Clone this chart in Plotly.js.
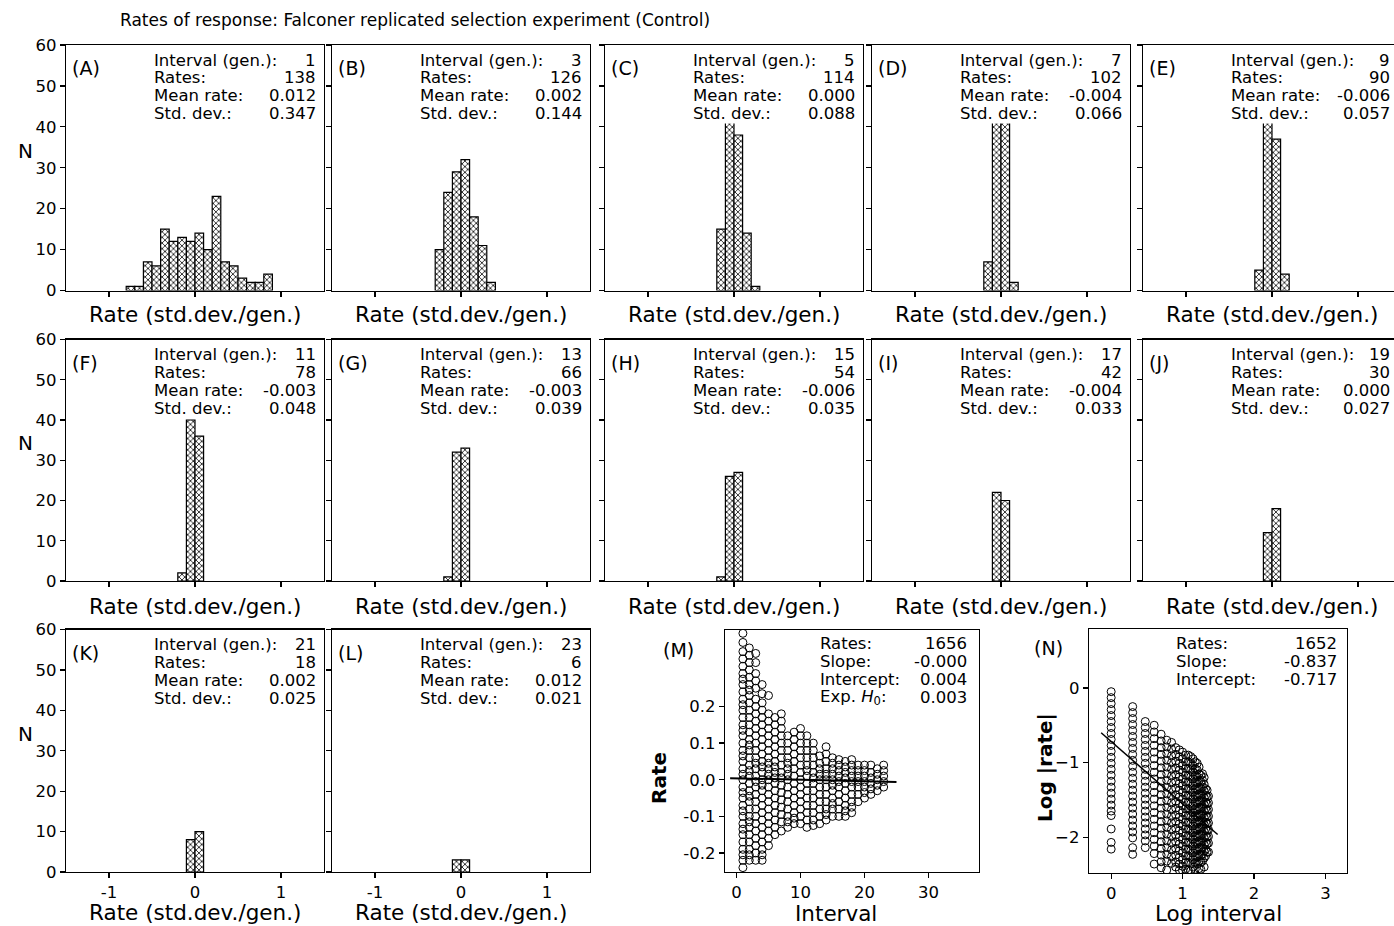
<!DOCTYPE html>
<html><head><meta charset="utf-8">
<script src="https://cdn.plot.ly/plotly-3.0.1.min.js"></script>
<style>html,body{margin:0;padding:0;background:#fff}</style>
</head><body>
<div id="chart" style="width:1394px;height:926px"></div>
<script>
// ---------------- data ----------------
const chartTitle = "Rates of response: Falconer replicated selection experiment (Control)";
const panelLetters = ["A","B","C","D","E","F","G","H","I","J","K","L"];
const intervals = [1,3,5,7,9,11,13,15,17,19,21,23];
const rateCounts = [138,126,114,102,90,78,66,54,42,30,18,6];
const meanRates = ["0.012","0.002","0.000","-0.004","-0.006","-0.003","-0.003","-0.006","-0.004","0.000","0.002","0.012"];
const stdDevs = ["0.347","0.144","0.088","0.066","0.057","0.048","0.039","0.035","0.033","0.027","0.025","0.021"];
const statLabels = ["Interval (gen.):","Rates:","Mean rate:","Std. dev.:"];
const binWidth = 0.1;
const histFirstEdge = [-0.8,-0.3,-0.2,-0.2,-0.2,-0.2,-0.2,-0.2,-0.1,-0.1,-0.1,-0.1];
const histCounts = [
  [1,1,7,6,15,12,13,12,14,10,23,7,6,3,2,2,4],
  [10,24,29,32,18,11,2],
  [15,46,38,14,1],
  [7,47,46,2],
  [5,44,37,4],
  [2,40,36],
  [1,32,33],
  [1,26,27],
  [22,20],
  [12,18],
  [8,10],
  [3,3]
];
const histXTicks = [-1,0,1];
const histYTicks = [0,10,20,30,40,50,60];

// panel M: rate vs interval
const mIntervals = [1,2,3,4,5,6,7,8,9,10,11,12,13,14,15,16,17,18,19,20,21,22,23];
const mRates = [
  [0.40,0.375,0.35,0.33,0.31,0.29,0.275,0.26,0.24,0.22,0.205,0.19,0.17,0.15,0.135,0.12,0.10,0.08,0.065,0.05,0.03,0.015,0.0,-0.02,-0.035,-0.05,-0.07,-0.085,-0.10,-0.12,-0.135,-0.15,-0.17,-0.19,-0.205,-0.22,-0.24],
  [0.36,0.34,0.32,0.30,0.28,0.26,0.245,0.23,0.21,0.19,0.17,0.15,0.13,0.11,0.095,0.08,0.06,0.04,0.025,0.01,-0.01,-0.03,-0.045,-0.06,-0.08,-0.10,-0.115,-0.13,-0.15,-0.17,-0.19,-0.205,-0.22],
  [0.345,0.32,0.29,0.27,0.25,0.22,0.20,0.18,0.16,0.14,0.12,0.10,0.08,0.06,0.045,0.03,0.01,-0.005,-0.02,-0.04,-0.06,-0.08,-0.10,-0.12,-0.14,-0.16,-0.18,-0.20,-0.22],
  [0.26,0.235,0.21,0.19,0.17,0.15,0.13,0.11,0.09,0.07,0.05,0.035,0.02,0.0,-0.015,-0.03,-0.05,-0.07,-0.09,-0.11,-0.13,-0.15,-0.17,-0.19,-0.205,-0.22],
  [0.23,0.18,0.16,0.14,0.12,0.10,0.08,0.06,0.045,0.03,0.015,0.0,-0.02,-0.04,-0.06,-0.08,-0.10,-0.12,-0.14,-0.16,-0.18],
  [0.17,0.15,0.13,0.11,0.09,0.07,0.05,0.035,0.02,0.005,-0.01,-0.03,-0.05,-0.07,-0.09,-0.11,-0.13,-0.15],
  [0.18,0.16,0.14,0.12,0.10,0.08,0.06,0.04,0.02,0.005,-0.015,-0.035,-0.055,-0.075,-0.095,-0.115,-0.14],
  [0.12,0.10,0.08,0.06,0.045,0.03,0.015,0.0,-0.02,-0.04,-0.06,-0.08,-0.10,-0.115,-0.13],
  [0.13,0.11,0.09,0.07,0.05,0.03,0.01,-0.01,-0.03,-0.05,-0.07,-0.09,-0.105,-0.12],
  [0.14,0.12,0.10,0.08,0.06,0.04,0.02,0.0,-0.02,-0.04,-0.06,-0.08,-0.10,-0.12],
  [0.12,0.10,0.08,0.06,0.04,0.025,0.01,-0.01,-0.03,-0.05,-0.07,-0.09,-0.11,-0.13],
  [0.10,0.08,0.06,0.04,0.02,0.005,-0.01,-0.03,-0.05,-0.07,-0.09,-0.11,-0.125],
  [0.065,0.045,0.03,0.015,0.0,-0.02,-0.04,-0.06,-0.08,-0.10,-0.12],
  [0.09,0.07,0.05,0.03,0.015,0.0,-0.02,-0.04,-0.06,-0.08,-0.095,-0.11],
  [0.06,0.045,0.03,0.015,0.0,-0.015,-0.03,-0.05,-0.065,-0.08,-0.10],
  [0.055,0.04,0.025,0.01,-0.005,-0.02,-0.04,-0.06,-0.08,-0.10],
  [0.05,0.035,0.02,0.005,-0.01,-0.03,-0.05,-0.07,-0.085,-0.10],
  [0.055,0.04,0.025,0.01,-0.005,-0.02,-0.04,-0.06,-0.075,-0.09],
  [0.04,0.025,0.01,-0.005,-0.02,-0.04,-0.06],
  [0.04,0.025,0.01,-0.005,-0.02,-0.035,-0.05],
  [0.04,0.02,0.005,-0.01,-0.025,-0.04],
  [0.03,0.015,0.0,-0.015,-0.03],
  [0.04,0.025,0.01,-0.005,-0.02]
];
const mStatLabels = ["Rates:","Slope:","Intercept:","Exp. <i>H</i><sub>0</sub>:"];
const mStatValues = ["1656","-0.000","0.004","0.003"];
const mFitX = [-1, 25];
const mFitY = [0.0044, -0.006];
const mXTicks = [0,10,20,30];
const mYTicks = [-0.2,-0.1,0.0,0.1,0.2];

// panel N: log |rate| vs log interval
const nLogRates = [
  [-0.05,-0.13,-0.21,-0.29,-0.37,-0.45,-0.53,-0.61,-0.69,-0.77,-0.85,-0.93,-1.01,-1.09,-1.17,-1.25,-1.33,-1.41,-1.49,-1.57,-1.65,-1.71,-1.89,-2.07,-2.16],
  [-0.25,-0.33,-0.41,-0.49,-0.57,-0.65,-0.73,-0.81,-0.89,-0.97,-1.05,-1.13,-1.21,-1.29,-1.37,-1.45,-1.53,-1.61,-1.69,-1.77,-1.85,-1.93,-2.01,-2.14,-2.23],
  [-0.45,-0.53,-0.61,-0.69,-0.77,-0.85,-0.93,-1.01,-1.09,-1.17,-1.25,-1.33,-1.41,-1.49,-1.57,-1.65,-1.73,-1.81,-1.89,-1.97,-2.05,-2.14],
  [-0.5,-0.59,-0.68,-0.77,-0.86,-0.95,-1.04,-1.13,-1.22,-1.31,-1.4,-1.49,-1.58,-1.67,-1.76,-1.85,-1.94,-2.03,-2.12,-2.22,-2.36],
  [-0.62,-0.71,-0.8,-0.89,-0.98,-1.07,-1.16,-1.25,-1.34,-1.43,-1.52,-1.61,-1.7,-1.79,-1.88,-1.97,-2.06,-2.15,-2.24,-2.33,-2.41],
  [-0.7,-0.79,-0.88,-0.97,-1.06,-1.15,-1.24,-1.33,-1.42,-1.51,-1.6,-1.69,-1.78,-1.87,-1.96,-2.05,-2.14,-2.23,-2.32,-2.44],
  [-0.73,-0.82,-0.91,-1.0,-1.09,-1.18,-1.27,-1.36,-1.45,-1.54,-1.63,-1.72,-1.81,-1.9,-1.99,-2.08,-2.17,-2.26,-2.35],
  [-0.8,-0.89,-0.98,-1.07,-1.16,-1.25,-1.34,-1.43,-1.52,-1.61,-1.7,-1.79,-1.88,-1.97,-2.06,-2.15,-2.24,-2.33,-2.4],
  [-0.83,-0.92,-1.01,-1.1,-1.19,-1.28,-1.37,-1.46,-1.55,-1.64,-1.73,-1.82,-1.91,-2.0,-2.09,-2.18,-2.27,-2.36,-2.44],
  [-0.86,-0.95,-1.04,-1.13,-1.22,-1.31,-1.4,-1.49,-1.58,-1.67,-1.76,-1.85,-1.94,-2.03,-2.12,-2.21,-2.3,-2.39,-2.45],
  [-0.9,-0.99,-1.08,-1.17,-1.26,-1.35,-1.44,-1.53,-1.62,-1.71,-1.8,-1.89,-1.98,-2.07,-2.16,-2.25,-2.34,-2.43],
  [-0.9,-0.99,-1.08,-1.17,-1.26,-1.35,-1.44,-1.53,-1.62,-1.71,-1.8,-1.89,-1.98,-2.07,-2.16,-2.25,-2.34,-2.44],
  [-0.92,-1.01,-1.1,-1.19,-1.28,-1.37,-1.46,-1.55,-1.64,-1.73,-1.82,-1.91,-2.0,-2.09,-2.18,-2.27,-2.36,-2.45],
  [-0.95,-1.04,-1.13,-1.22,-1.31,-1.4,-1.49,-1.58,-1.67,-1.76,-1.85,-1.94,-2.03,-2.12,-2.21,-2.3,-2.4],
  [-0.99,-1.08,-1.17,-1.26,-1.35,-1.44,-1.53,-1.62,-1.71,-1.8,-1.89,-1.98,-2.07,-2.16,-2.25,-2.34,-2.43],
  [-1.01,-1.1,-1.19,-1.28,-1.37,-1.46,-1.55,-1.64,-1.73,-1.82,-1.91,-2.0,-2.09,-2.18,-2.27,-2.36],
  [-1.06,-1.15,-1.24,-1.33,-1.42,-1.51,-1.6,-1.69,-1.78,-1.87,-1.96,-2.05,-2.14,-2.23,-2.32,-2.42],
  [-1.17,-1.26,-1.35,-1.44,-1.53,-1.62,-1.71,-1.8,-1.89,-1.98,-2.07,-2.16,-2.25,-2.34,-2.43],
  [-1.15,-1.24,-1.33,-1.42,-1.51,-1.6,-1.69,-1.78,-1.87,-1.96,-2.05,-2.14,-2.23,-2.32],
  [-1.2,-1.29,-1.38,-1.47,-1.56,-1.65,-1.74,-1.83,-1.92,-2.01,-2.1,-2.19,-2.28,-2.4],
  [-1.35,-1.44,-1.53,-1.62,-1.71,-1.8,-1.89,-1.98,-2.07,-2.16,-2.25],
  [-1.37,-1.46,-1.55,-1.64,-1.73,-1.82,-1.91,-2.0,-2.09,-2.2],
  [-1.45,-1.54,-1.63,-1.72,-1.81,-1.9,-1.99,-2.08,-2.2]
];
const nStatLabels = ["Rates:","Slope:","Intercept:"];
const nStatValues = ["1652","-0.837","-0.717"];
const nFitX = [-0.14, 1.49];
const nFitY = [-0.600, -1.964];
const nXTicks = [0,1,2,3];
const nYTicks = [-2,-1,0];

// ---------------- layout helpers ----------------
const W = 1394, H = 926;
const FONT = "DejaVu Sans";
const colLeft = [66, 332, 605, 872, 1143];
const rowTop = [45, 339.5, 629.5];
const rowBot = [290.5, 581, 872];
const panelW = 258;
const pxPerUnit = 86;
const fx = v => v / W;
const fy = v => 1 - v / H;

const traces = [];
const layout = {
  width: W, height: H,
  margin: {l: 0, r: 0, t: 0, b: 0},
  paper_bgcolor: "#fff", plot_bgcolor: "#fff",
  font: {family: FONT, size: 16, color: "#000"},
  showlegend: false,
  title: {text: chartTitle, x: 120 / W, xanchor: "left", y: 1 - 20 / H, yanchor: "middle",
          xref: "container", yref: "container", font: {family: FONT, size: 17, color: "#000"}},
  annotations: [],
  bargap: 0
};

function baseAxis(extra) {
  return Object.assign({
    showline: true, linecolor: "#000", linewidth: 1.3, mirror: true,
    ticks: "outside", ticklen: 5, tickwidth: 1.3, tickcolor: "#000",
    showgrid: false, zeroline: false, fixedrange: true,
    tickfont: {family: FONT, size: 16.5, color: "#000"}
  }, extra);
}

function ann(text, x, y, opts) {
  layout.annotations.push(Object.assign({
    text: text, x: fx(x), y: fy(y), xref: "paper", yref: "paper",
    showarrow: false, xanchor: "left", yanchor: "middle",
    font: {family: FONT, size: 16.5, color: "#000"}, borderpad: 0
  }, opts || {}));
}

// ---------------- histogram panels ----------------
panelLetters.forEach((letter, i) => {
  const k = i + 1;
  const row = Math.floor(i / 5), col = i % 5;
  const left = colLeft[col];
  const right = Math.min(left + panelW, W);
  const top = rowTop[row], bot = rowBot[row];
  const xs = histCounts[i].map((_, j) => histFirstEdge[i] + (j + 0.5) * binWidth);
  traces.push({
    type: "bar", x: xs, y: histCounts[i], width: binWidth,
    xaxis: "x" + (k === 1 ? "" : k), yaxis: "y" + (k === 1 ? "" : k),
    marker: {color: "#fff", line: {color: "#000", width: 1.2},
             pattern: {shape: "x", fgcolor: "#000", bgcolor: "#fff", size: 4, solidity: 0.35}},
    hoverinfo: "skip"
  });
  const xName = "xaxis" + (k === 1 ? "" : k), yName = "yaxis" + (k === 1 ? "" : k);
  layout[xName] = baseAxis({
    domain: [fx(left), fx(right)], anchor: "y" + (k === 1 ? "" : k),
    range: [-1.5, -1.5 + (right - left) / pxPerUnit],
    tickmode: "array", tickvals: histXTicks, ticktext: histXTicks.map(String),
    showticklabels: row === 2
  });
  layout[yName] = baseAxis({
    domain: [fy(bot), fy(top)], anchor: "x" + (k === 1 ? "" : k),
    range: [0, 60], tickmode: "array", tickvals: histYTicks,
    showticklabels: col === 0, ticklabelstandoff: 0
  });
  ann("(" + letter + ")", left + 5, top + 23, {font: {family: FONT, size: 19, color: "#000"}});
  const vals = [String(intervals[i]), String(rateCounts[i]), meanRates[i], stdDevs[i]];
  const valRight = Math.min(left + 251, 1391);
  statLabels.forEach((lab, j) => {
    const yy = top + 15 + 18 * j;
    const bg = j >= 2 ? "#fff" : "rgba(0,0,0,0)";
    ann(lab, left + 87, yy, {bgcolor: bg});
    ann(vals[j], valRight, yy, {xanchor: "right", bgcolor: bg});
  });
  ann("Rate (std.dev./gen.)", left + 129, [315, 606, 912][row],
      {xanchor: "center", font: {family: FONT, size: 21.5, color: "#000"}});
  if (col === 0) {
    ann("N", 25, (top + bot) / 2 - 17, {xanchor: "center", font: {family: FONT, size: 20, color: "#000"}});
  }
});

// ---------------- panel M ----------------
{
  const left = 725, right = 979, top = 630, bot = 872;
  const mx = [], my = [];
  mIntervals.forEach((iv, j) => mRates[j].forEach(r => { mx.push(iv); my.push(r); }));
  traces.push({type: "scatter", mode: "markers", x: mx, y: my, xaxis: "x13", yaxis: "y13",
    marker: {symbol: "circle-open", size: 8, color: "#000", line: {width: 1, color: "#000"}},
    hoverinfo: "skip"});
  traces.push({type: "scatter", mode: "lines", x: mFitX, y: mFitY, xaxis: "x13", yaxis: "y13",
    line: {color: "#000", width: 2}, hoverinfo: "skip"});
  layout.xaxis13 = baseAxis({domain: [fx(left), fx(right)], anchor: "y13", range: [-1.8, 37.9],
    tickmode: "array", tickvals: mXTicks});
  layout.yaxis13 = baseAxis({domain: [fy(bot), fy(top)], anchor: "x13", range: [-0.252, 0.409],
    tickmode: "array", tickvals: mYTicks, ticktext: mYTicks.map(v => v.toFixed(1))});
  ann("(M)", 662, 650, {font: {family: FONT, size: 19, color: "#000"}});
  mStatLabels.forEach((lab, j) => {
    const yy = 643 + 18.3 * j;
    ann(lab, 819, yy);
    ann(mStatValues[j], 968, yy, {xanchor: "right"});
  });
  ann("Rate", 659, 778, {xanchor: "center", textangle: -90,
      font: {family: FONT, size: 20, color: "#000", weight: "bold"}});
  ann("Interval", 836, 913, {xanchor: "center", font: {family: FONT, size: 21.5, color: "#000"}});
}

// ---------------- panel N ----------------
{
  const left = 1089, right = 1347, top = 629, bot = 873;
  const nx = [], ny = [];
  mIntervals.forEach((iv, j) => nLogRates[j].forEach(r => { nx.push(Math.log10(iv)); ny.push(r); }));
  traces.push({type: "scatter", mode: "markers", x: nx, y: ny, xaxis: "x14", yaxis: "y14",
    marker: {symbol: "circle-open", size: 8, color: "#000", line: {width: 1, color: "#000"}},
    hoverinfo: "skip"});
  traces.push({type: "scatter", mode: "lines", x: nFitX, y: nFitY, xaxis: "x14", yaxis: "y14",
    line: {color: "#000", width: 1.5}, hoverinfo: "skip"});
  layout.xaxis14 = baseAxis({domain: [fx(left), fx(right)], anchor: "y14", range: [-0.31, 3.3],
    tickmode: "array", tickvals: nXTicks});
  layout.yaxis14 = baseAxis({domain: [fy(bot), fy(top)], anchor: "x14", range: [-2.48, 0.79],
    tickmode: "array", tickvals: nYTicks});
  ann("(N)", 1033, 648, {font: {family: FONT, size: 19, color: "#000"}});
  nStatLabels.forEach((lab, j) => {
    const yy = 643 + 18.3 * j;
    ann(lab, 1175, yy);
    ann(nStatValues[j], 1338, yy, {xanchor: "right"});
  });
  ann("Log |rate|", 1045, 768, {xanchor: "center", textangle: -90,
      font: {family: FONT, size: 20, color: "#000", weight: "bold"}});
  ann("Log interval", 1218, 913, {xanchor: "center", font: {family: FONT, size: 21.5, color: "#000"}});
}

Plotly.newPlot("chart", traces, layout, {staticPlot: true, displayModeBar: false});
</script>
</body></html>
